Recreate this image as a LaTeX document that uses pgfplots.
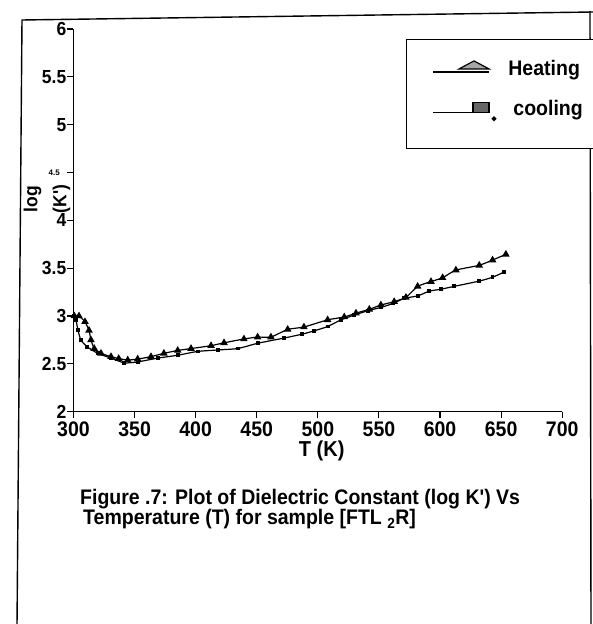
\documentclass[border=0pt]{standalone}
\usepackage{fontspec}
\setmainfont{Liberation Sans}[Ligatures=TeXOff]
\usepackage{graphicx}
\usepackage{pgfplots}
\pgfplotsset{compat=1.18}
\usepackage{pgfplotstable}
\newcommand{\vs}[1]{\scalebox{1}[1.08]{#1}}

\pgfplotstableread{
T y
300.7 3.00
304.5 3.00
309.4 2.94
312.7 2.85
314.3 2.75
317.0 2.66
322.5 2.61
330.7 2.575
337.0 2.555
344.4 2.54
352.5 2.55
363.4 2.575
374.0 2.61
385.3 2.64
396.2 2.66
412.6 2.69
423.2 2.72
439.5 2.76
450.7 2.78
461.6 2.78
475.3 2.86
488.6 2.885
508.0 2.96
521.6 2.99
531.2 3.03
542.1 3.07
551.6 3.115
562.5 3.15
572.1 3.195
581.7 3.31
592.6 3.36
602.1 3.40
613.0 3.48
632.1 3.53
643.0 3.585
653.9 3.645
}\heating

\pgfplotstableread{
T y
300.5 3.00
302.0 2.96
303.7 2.85
306.0 2.75
311.0 2.68
319.8 2.61
330.7 2.56
341.6 2.51
352.5 2.52
368.9 2.56
385.3 2.59
401.6 2.63
418.0 2.645
434.4 2.66
450.7 2.715
472.5 2.77
487.0 2.81
497.0 2.845
508.0 2.89
518.9 2.96
529.8 3.01
540.8 3.055
551.6 3.09
561.2 3.13
570.7 3.185
581.7 3.21
591.2 3.26
600.7 3.28
611.6 3.31
632.1 3.365
643.0 3.405
652.5 3.46
}\cooling

\begin{document}
\begin{tikzpicture}[x=1pt,y=1pt]
\path[use as bounding box] (0,0) rectangle (592,624);
% page frame
\draw[line width=1.4pt] (17,-2) -- (22,604) -- (593,612);
\draw[line width=1.4pt] (591,-2) -- (590,613);
\begin{axis}[
  at={(73.5pt,212.3pt)}, anchor=south west,
  scale only axis, width=488.7pt, height=382.7pt,
  xmin=300, xmax=700, ymin=2, ymax=6,
  axis x line*=bottom, axis y line*=left,
  axis line style={line width=1.3pt,-},
  every tick/.style={line width=1.1pt,black},
  major tick length=6pt, tick align=outside,
  clip=false,
  xtick={300,350,...,700},
  xticklabels={\vs{300},\vs{350},\vs{400},\vs{450},\vs{500},\vs{550},\vs{600},\vs{650},\vs{700}},
  ytick={2,2.5,...,6},
  yticklabels={\vs{2},\vs{2.5},\vs{3},\vs{3.5},\vs{4},{},\vs{5},\vs{5.5},\vs{6}},
  extra y ticks={4.5}, extra y tick labels={4.5},
  extra y tick style={yticklabel style={font=\bfseries\fontsize{8}{8}\selectfont, xshift=-6.5pt}},
  xticklabel style={font=\bfseries\fontsize{19.5}{20}\selectfont, inner sep=2pt, yshift=-2pt},
  yticklabel style={font=\bfseries\fontsize{17.5}{18}\selectfont, inner sep=1pt},
  xlabel={\vs{T (K)}},
  xlabel style={font=\bfseries\fontsize{20}{21}\selectfont, inner sep=0pt,
    at={(axis description cs:0.508,0)}, anchor=north, yshift=-29pt},
  ylabel={\vs{log}\\[7pt]\vs{(K')}},
  ylabel style={font=\bfseries\fontsize{17.5}{22}\selectfont, align=center,
    at={(axis description cs:-0.054,0.556)}, anchor=center},
  legend style={at={(axis description cs:0.680,0.974)}, anchor=north west,
    draw=black, line width=1.2pt, inner xsep=26pt, inner ysep=19pt,
    row sep=19pt,
    font=\bfseries\fontsize{19.5}{20}\selectfont,
    text width=100pt},
  legend cell align=left,
]
\addplot[black, line width=1.2pt, smooth, tension=0.3,
  mark=triangle*, mark size=3.2pt, mark options={solid,fill=black},
  legend image code/.code={
    \draw[line width=1.2pt] (0pt,-3pt) -- (56pt,-3pt);
    \filldraw[fill=gray!70, draw=black, line width=1.2pt] (26pt,0pt) -- (41pt,8pt) -- (56pt,0pt) -- cycle;
  }] table[x=T,y=y] {\heating};
\addlegendentry{\hspace{10pt}\vs{Heating}}
\addplot[black, line width=1.2pt, smooth, tension=0.3,
  mark=square*, mark size=1.3pt, mark options={solid,fill=black},
  legend image code/.code={
    \draw[line width=1.2pt] (0pt,-4pt) -- (56pt,-4pt);
    \filldraw[fill=gray!80!black, draw=black, line width=1.2pt] (40pt,-4pt) rectangle (56pt,6pt);
    \fill[black] (61pt,-10pt) circle (1.8pt);
    \path (0pt,-20pt);
  }] table[x=T,y=y] {\cooling};
\addlegendentry{\hspace{15pt}\vs{cooling}}
\end{axis}
\node[anchor=base west, align=left, inner sep=0pt, font=\bfseries\fontsize{19.5}{20}\selectfont] at (80,99)
  {\vs{Figure .7: Plot of Dielectric Constant (log K') Vs}\\\hspace*{3pt}\vs{Temperature (T) for sample [FTL \textsubscript{2}R]}};
\end{tikzpicture}
\end{document}
